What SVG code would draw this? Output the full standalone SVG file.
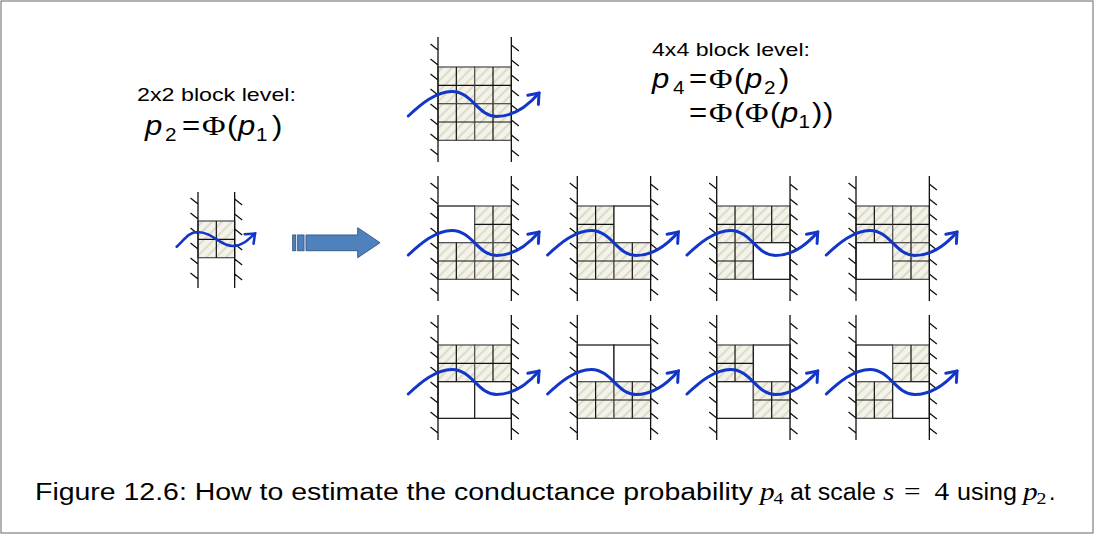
<svg xmlns="http://www.w3.org/2000/svg" width="1095" height="535" viewBox="0 0 1095 535">
<style>
.sans{font-family:"Liberation Sans",Arial,sans-serif;fill:#000}
.serif{font-family:"Liberation Serif","Times New Roman",serif;fill:#000}
.it{font-style:italic}
.wall{fill:none;stroke:#111;stroke-width:1.3}
.wave{fill:none;stroke:#1236c8;stroke-width:3;stroke-linecap:round}
.wave-s{fill:none;stroke:#1236c8;stroke-width:2.6;stroke-linecap:round}
</style>
<defs>
<pattern id="hatch" patternUnits="userSpaceOnUse" width="7" height="7" patternTransform="rotate(45)">
<rect width="7" height="7" fill="#f4f3ea"/>
<line x1="3.5" y1="0" x2="3.5" y2="7" stroke="#d6d4bf" stroke-width="1.6"/>
</pattern>
<marker id="ah" markerUnits="userSpaceOnUse" viewBox="-12 -10 14 20" markerWidth="14" markerHeight="20" refX="0" refY="0" orient="auto">
<path d="M-9,-7L0,0L-9,7" fill="none" stroke="#1236c8" stroke-width="3" stroke-linecap="round" stroke-linejoin="miter"/>
</marker>
<marker id="ahs" markerUnits="userSpaceOnUse" viewBox="-12 -10 14 20" markerWidth="14" markerHeight="20" refX="0" refY="0" orient="auto">
<path d="M-8,-6.5L0,0L-8,6.5" fill="none" stroke="#1236c8" stroke-width="2.6" stroke-linecap="round"/>
</marker>
<g id="hq"><rect width="36.67" height="36.67" fill="url(#hatch)" stroke="#555" stroke-width="1.3"/><path d="M18.33,0V36.67M0,18.33H36.67" stroke="#111" stroke-width="1.2" fill="none"/></g>
<rect id="bq" width="36.67" height="36.67" fill="#fff" stroke="#222" stroke-width="1.3"/>
<path id="walls4" class="wall" d="M0,-30V95M73.33,-30V95M-7.5,-23l7.5,6M-7.5,-8l7.5,6M-7.5,7l7.5,6M-7.5,22l7.5,6M-7.5,37l7.5,6M-7.5,52l7.5,6M-7.5,67l7.5,6M-7.5,82l7.5,6M73.33,-22l7.5,6M73.33,-7l7.5,6M73.33,8l7.5,6M73.33,23l7.5,6M73.33,38l7.5,6M73.33,53l7.5,6M73.33,68l7.5,6M73.33,83l7.5,6"/>
<path id="walls2" class="wall" d="M0,-29V67M36.67,-29V67M-7.5,-23l7.5,6M-7.5,-8l7.5,6M-7.5,7l7.5,6M-7.5,22l7.5,6M-7.5,37l7.5,6M-7.5,52l7.5,6M36.67,-22l7.5,6M36.67,-7l7.5,6M36.67,8l7.5,6M36.67,23l7.5,6M36.67,38l7.5,6M36.67,53l7.5,6"/>
<path id="wave4" class="wave" marker-end="url(#ah)" d="M-29.7,49C-17,37 -2,24.5 14,24.5C34,24.5 40,49.5 58.7,49.5C74,49.5 88,41 101,26"/>
</defs>

<rect x="1" y="1" width="1092" height="532" fill="#fff" stroke="#666" stroke-width="1"/>

<g id="label-2x2">
<text class="sans" x="137" y="101" font-size="19" textLength="159" lengthAdjust="spacingAndGlyphs">2x2 block level:</text>
<text class="sans" font-size="27" transform="translate(145,135) scale(1.15,1)"><tspan class="it" x="0" y="0">p</tspan><tspan x="17.4" y="6" font-size="18">2</tspan><tspan x="32.2" y="0">=</tspan><tspan class="serif" x="49.6" font-size="28">Φ</tspan><tspan x="71.3">(</tspan><tspan class="it" x="80.9">p</tspan><tspan x="96.5" y="6" font-size="18">1</tspan><tspan x="110.4" y="0">)</tspan></text>
</g>

<g id="label-4x4">
<text class="sans" x="652" y="56" font-size="19" textLength="158" lengthAdjust="spacingAndGlyphs">4x4 block level:</text>
<text class="sans" font-size="27" transform="translate(652,88) scale(1.15,1)"><tspan class="it" x="0" y="0">p</tspan><tspan x="18.3" y="6" font-size="18">4</tspan><tspan x="32.2" y="0">=</tspan><tspan class="serif" x="49.6" font-size="28">Φ</tspan><tspan x="71.3">(</tspan><tspan class="it" x="80.9">p</tspan><tspan x="97.4" y="6" font-size="18">2</tspan><tspan x="110.4" y="0">)</tspan></text>
<text class="sans" font-size="27" transform="translate(652,122) scale(1.15,1)"><tspan x="32.2" y="0">=</tspan><tspan class="serif" x="49.6" font-size="28">Φ</tspan><tspan x="71.3">(</tspan><tspan class="serif" x="80.9" font-size="28">Φ</tspan><tspan x="102.6">(</tspan><tspan class="it" x="112.2">p</tspan><tspan x="127.4" y="6" font-size="18">1</tspan><tspan x="139.1" y="0">)</tspan><tspan x="148.7">)</tspan></text>
</g>

<g id="block-2x2" transform="translate(198,221)">
<use href="#hq"/>
<use href="#walls2"/>
<path class="wave-s" marker-end="url(#ahs)" d="M-21.3,25.7C-14,19 -9,11 -1,11C15,11 22,25 35,25C44,25 50,19 57,12.5"/>
</g>

<g id="block-top" transform="translate(438,67)">
<use href="#hq"/><use href="#hq" x="36.67"/><use href="#hq" y="36.67"/><use href="#hq" x="36.67" y="36.67"/>
<use href="#walls4"/><use href="#wave4"/>
</g>

<g id="block-r1c1" transform="translate(438,206)">
<use href="#bq"/><use href="#hq" x="36.67"/><use href="#hq" y="36.67"/><use href="#hq" x="36.67" y="36.67"/>
<use href="#walls4"/><use href="#wave4"/>
</g>
<g id="block-r1c2" transform="translate(577.3,206)">
<use href="#hq"/><use href="#bq" x="36.67"/><use href="#hq" y="36.67"/><use href="#hq" x="36.67" y="36.67"/>
<use href="#walls4"/><use href="#wave4"/>
</g>
<g id="block-r1c3" transform="translate(716.7,206)">
<use href="#hq"/><use href="#hq" x="36.67"/><use href="#hq" y="36.67"/><use href="#bq" x="36.67" y="36.67"/>
<use href="#walls4"/><use href="#wave4"/>
</g>
<g id="block-r1c4" transform="translate(856,206)">
<use href="#hq"/><use href="#hq" x="36.67"/><use href="#bq" y="36.67"/><use href="#hq" x="36.67" y="36.67"/>
<use href="#walls4"/><use href="#wave4"/>
</g>

<g id="block-r2c1" transform="translate(438,345)">
<use href="#hq"/><use href="#hq" x="36.67"/><use href="#bq" y="36.67"/><use href="#bq" x="36.67" y="36.67"/>
<use href="#walls4"/><use href="#wave4"/>
</g>
<g id="block-r2c2" transform="translate(577.3,345)">
<use href="#bq"/><use href="#bq" x="36.67"/><use href="#hq" y="36.67"/><use href="#hq" x="36.67" y="36.67"/>
<use href="#walls4"/><use href="#wave4"/>
</g>
<g id="block-r2c3" transform="translate(716.7,345)">
<use href="#hq"/><use href="#bq" x="36.67"/><use href="#bq" y="36.67"/><use href="#hq" x="36.67" y="36.67"/>
<use href="#walls4"/><use href="#wave4"/>
</g>
<g id="block-r2c4" transform="translate(856,345)">
<use href="#bq"/><use href="#hq" x="36.67"/><use href="#hq" y="36.67"/><use href="#bq" x="36.67" y="36.67"/>
<use href="#walls4"/><use href="#wave4"/>
</g>

<g id="connectors">
<g fill="#4f81bd" stroke="#385d8a" stroke-width="1">
<rect x="292.7" y="235" width="3" height="15.7"/>
<rect x="297.7" y="235" width="6.3" height="15.7"/>
<path d="M306,235H357.7V227.7L380,242.7L357.7,257.7V250.7H306Z"/>
</g>
</g>

<g id="caption">
<text class="sans" x="35" y="500" font-size="23" textLength="718" lengthAdjust="spacingAndGlyphs">Figure 12.6: How to estimate the conductance probability</text>
<text class="serif" font-size="25" transform="translate(760,500) scale(1.17,1)"><tspan class="it" x="0" y="0">p</tspan><tspan x="11.5" y="4" font-size="17">4</tspan></text>
<text class="sans" x="790" y="500" font-size="23" textLength="86" lengthAdjust="spacingAndGlyphs">at scale</text>
<text class="serif" font-size="25" transform="translate(883,500) scale(1.17,1)"><tspan class="it" x="0" y="0">s</tspan><tspan x="18">=</tspan><tspan x="44">4</tspan></text>
<text class="sans" x="957" y="500" font-size="23" textLength="60" lengthAdjust="spacingAndGlyphs">using</text>
<text class="serif" font-size="25" transform="translate(1023,500) scale(1.17,1)"><tspan class="it" x="0" y="0">p</tspan><tspan x="11.5" y="4" font-size="17">2</tspan></text>
<text class="sans" x="1049" y="500" font-size="23">.</text>
</g>
</svg>
